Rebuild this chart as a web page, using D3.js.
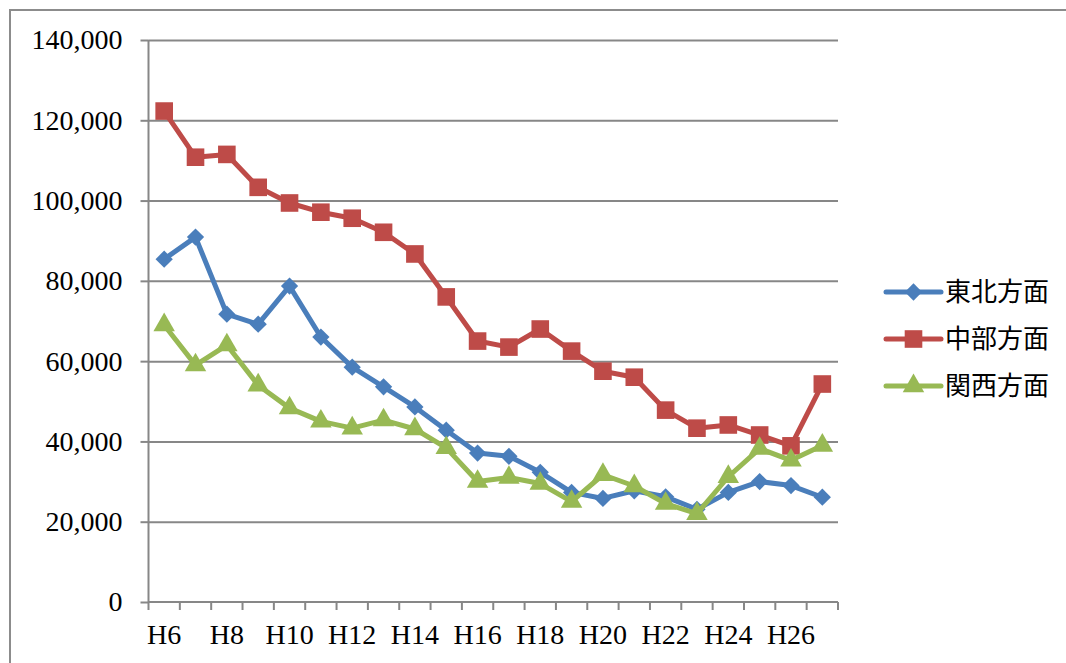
<!DOCTYPE html>
<html>
<head>
<meta charset="utf-8">
<script src="https://cdn.jsdelivr.net/npm/d3@7"></script>
<style>
  body { margin: 0; background: #fff; }
  .tick text { font-family: "Liberation Serif", "DejaVu Serif", serif; fill: #000; }
</style>
</head>
<body>
<div id="chart"></div>
<script>
// categories (Heisei years)
const categories = ['H6','H7','H8','H9','H10','H11','H12','H13','H14','H15','H16','H17','H18','H19','H20','H21','H22','H23','H24','H25','H26','H27'];
const tickLabels = ['H6','H8','H10','H12','H14','H16','H18','H20','H22','H24','H26'];
const yTicks = [0, 20000, 40000, 60000, 80000, 100000, 120000, 140000];

const tohoku = [85400, 90900, 71700, 69200, 78700, 66000, 58500, 53600, 48600, 42800, 37100, 36300, 32300, 27300, 25800, 27700, 26200, 23100, 27300, 30000, 29000, 26100];
const chubu  = [122300, 110800, 111500, 103300, 99400, 97100, 95600, 92100, 86700, 76000, 65000, 63500, 68000, 62500, 57500, 56000, 47800, 43300, 44100, 41600, 38900, 54300];
const kansai = [69000, 59000, 64000, 54000, 48300, 45000, 43300, 45300, 43100, 38400, 30000, 31000, 29500, 25000, 31700, 28900, 24500, 22000, 31200, 38200, 35300, 39000];

const seriesNames = ['東北方面', '中部方面', '関西方面'];

const series = [
  {name: seriesNames[0], values: tohoku, color: '#4a7ebb', symbol: d3.symbolDiamond2, size: 190},
  {name: seriesNames[1], values: chubu,  color: '#be4b48', symbol: d3.symbolSquare,   size: 310},
  {name: seriesNames[2], values: kansai, color: '#98b954', symbol: d3.symbolTriangle, size: 200},
]

//// Chart dimensions
let dimensions = {
  width: 1066,
  height: 663,
  margin: {top: 40, right: 228, bottom: 61, left: 148.5},
}
dimensions.boundedWidth = dimensions.width - dimensions.margin.left - dimensions.margin.right
dimensions.boundedHeight = dimensions.height - dimensions.margin.top - dimensions.margin.bottom

const wrapper = d3.select('#chart')
  .append('svg')
  .attr('width', dimensions.width)
  .attr('height', dimensions.height)

// outer frame
wrapper.append('rect')
  .attr('x', 10).attr('y', 10)
  .attr('width', 1100).attr('height', 700)
  .attr('fill', 'none')
  .attr('stroke', '#8c8c8c')
  .attr('stroke-width', 2)

const bounds = wrapper.append('g')
  .attr('transform', `translate(${dimensions.margin.left},${dimensions.margin.top})`)

//// Scales
const xScale = d3.scaleBand()
  .domain(categories)
  .range([0, dimensions.boundedWidth])
  .padding(0)

const yScale = d3.scaleLinear()
  .domain([0, 140000])
  .range([dimensions.boundedHeight, 0])

//// Gridlines
const grid = bounds.append('g')
  .call(d3.axisLeft(yScale).tickValues(yTicks.slice(1)).tickSize(-dimensions.boundedWidth).tickFormat(''))
grid.select('.domain').remove()
grid.selectAll('line').attr('stroke', '#878787').attr('stroke-width', 2)

//// Y axis
const yAxis = bounds.append('g')
  .call(d3.axisLeft(yScale).tickValues(yTicks).tickSize(8).tickPadding(18).tickFormat(d3.format(',')))
yAxis.select('.domain').attr('stroke', '#878787').attr('stroke-width', 2).attr('d', `M0,${dimensions.boundedHeight}V0`)
yAxis.selectAll('.tick line').attr('stroke', '#878787').attr('stroke-width', 2)
yAxis.selectAll('.tick text').style('font-size', '28px')

//// X axis
const xAxis = bounds.append('g')
  .attr('transform', `translate(0,${dimensions.boundedHeight})`)
  .call(d3.axisBottom(xScale).tickValues(tickLabels).tickSize(0).tickPadding(22))
xAxis.select('.domain').attr('stroke', '#878787').attr('stroke-width', 2).attr('d', `M0,0H${dimensions.boundedWidth}`)
xAxis.selectAll('.tick text').style('font-size', '28px')

const boundaries = categories.map(c => xScale(c)).concat([dimensions.boundedWidth])
xAxis.selectAll('line.boundary')
  .data(boundaries)
  .join('line')
  .attr('class', 'boundary')
  .attr('x1', d => d).attr('x2', d => d)
  .attr('y1', 0).attr('y2', 8)
  .attr('stroke', '#878787')
  .attr('stroke-width', 2)

//// Lines and markers
const lineGen = d3.line()
  .x((d, i) => xScale(categories[i]) + xScale.bandwidth() / 2)
  .y(d => yScale(d))

series.forEach(s => {
  bounds.append('path')
    .datum(s.values)
    .attr('d', lineGen)
    .attr('fill', 'none')
    .attr('stroke', s.color)
    .attr('stroke-width', 5)
    .attr('stroke-linejoin', 'round')

  bounds.append('g')
    .selectAll('path')
    .data(s.values)
    .join('path')
    .attr('transform', (d, i) => `translate(${xScale(categories[i]) + xScale.bandwidth() / 2},${yScale(d)})`)
    .attr('d', d3.symbol().type(s.symbol).size(s.size))
    .attr('fill', s.color)
})

//// Legend
const legend = wrapper.append('g')
  .attr('transform', 'translate(886,292)')

const entries = legend.selectAll('g')
  .data(series)
  .join('g')
  .attr('transform', (d, i) => `translate(0,${i * 47})`)

entries.append('line')
  .attr('x1', 0).attr('x2', 55)
  .attr('stroke', d => d.color)
  .attr('stroke-width', 5)
  .attr('stroke-linecap', 'round')

entries.append('path')
  .attr('transform', 'translate(27.5,0)')
  .attr('d', d => d3.symbol().type(d.symbol).size(d.size)())
  .attr('fill', d => d.color)

entries.append('text')
  .attr('x', 59)
  .attr('dy', '0.35em')
  .style('font-family', '"Noto Sans CJK JP", sans-serif')
  .style('font-size', '26px')
  .text(d => d.name)
</script>
</body>
</html>
